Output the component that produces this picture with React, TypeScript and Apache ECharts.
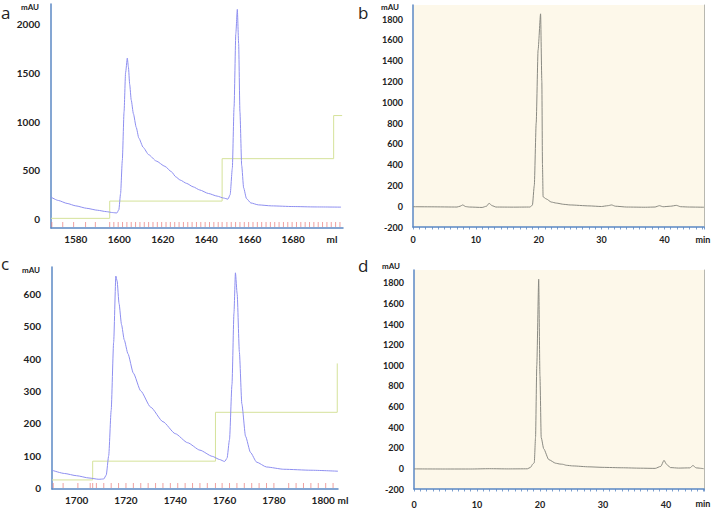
import React, { useEffect, useRef } from "react";
import * as echarts from "echarts";

// Panel a: preparative run (ml, mAU)
const aBlue: [number, number][] = [
  [1568.6, 224], [1572, 190], [1576, 160], [1580, 135], [1585, 110], [1590, 90], [1594, 76], [1597, 66], [1598.9, 62],
  [1599.8, 95], [1600.6, 260], [1601.4, 600], [1602.2, 1100], [1602.9, 1500], [1603.7, 1650], [1604.2, 1560],
  [1604.8, 1380], [1605.5, 1220], [1606.5, 1080], [1607.8, 940], [1609, 830], [1611, 735], [1613.5, 660], [1617, 595],
  [1621, 540], [1624, 485], [1626, 432], [1628, 400], [1631, 365], [1634, 330], [1637, 298], [1641, 262], [1645, 235],
  [1648, 215], [1650, 204],
  [1651, 250], [1652, 520], [1652.8, 1150], [1653.6, 1900], [1654.3, 2150], [1654.9, 1800], [1655.5, 1100],
  [1656.3, 550], [1657.2, 320], [1658.5, 210], [1660.5, 165], [1664, 145], [1670, 135], [1680, 128], [1690, 124], [1702, 122],
];
const aGreen: [number, number][] = [[1568.6, 7], [1595.6, 184], [1647.3, 619], [1698.6, 1061], [1702.5, 1061]];
const aFractions: number[] = [
  1569, 1574, 1579, 1584.5, 1589, 1595.6, 1597.5, 1599.5, 1601.5, 1603.5, 1605.5, 1607.5, 1609.5, 1611.5, 1613.5,
  1615.5, 1617.5, 1619.5, 1621.5, 1623.5, 1625.5, 1627.5, 1629.5, 1631.5, 1633.5, 1635.5, 1637.5, 1639.5, 1641.5,
  1643.5, 1645.5, 1647.3, 1649.5, 1651.5, 1653.5, 1655.5, 1657.5, 1659.5, 1661.5, 1663.5, 1665.5, 1667.5, 1669.5,
  1671.5, 1673.5, 1675.5, 1677.5, 1679.5, 1681.5, 1683.5, 1685.5, 1687.5, 1689.5, 1691.5, 1693.5, 1695.5, 1697.5, 1699.5, 1701.5,
];

// Panel b: analytical HPLC (min, mAU)
const bGray: [number, number][] = [
  [0, -5], [3, -6], [7, -8], [7.5, 0], [7.9, 12], [8.4, -4], [9, -8], [11, -12], [11.7, 0], [12.1, 28], [12.6, 5],
  [13.2, -8], [16, -9], [18.6, -8], [19.0, 10], [19.3, 200], [19.6, 800], [19.9, 1500], [20.3, 1850], [20.5, 1200],
  [20.6, 400], [20.7, 90], [21.2, 70], [22, 40], [22.8, 30], [24, 18], [25, 12], [28, 3], [30, -3], [31, 5],
  [31.6, 12], [32.2, 0], [34, -8], [37, -10], [38.5, -8], [39.2, 5], [39.8, -5], [41, 0], [41.9, 8], [42.6, -5], [44, -8], [46.3, -10],
];

// Panel c: preparative run (ml, mAU)
const cBlue: [number, number][] = [
  [1690, 55], [1695, 45], [1700, 38], [1705, 31], [1709, 27], [1711, 28], [1712, 40], [1713, 100], [1714, 240],
  [1715, 450], [1715.9, 655], [1716.4, 640], [1717.2, 570], [1718.2, 505], [1719.3, 458], [1720.8, 415], [1723, 355],
  [1726, 300], [1730, 250], [1735, 205], [1740, 168], [1745, 140], [1750, 117], [1755, 98], [1758, 88], [1760, 82],
  [1761, 92], [1762, 150], [1763, 320], [1763.8, 540], [1764.4, 665], [1765.1, 600], [1766, 420], [1767, 260],
  [1768.5, 160], [1770.5, 110], [1773, 80], [1777, 65], [1784, 58], [1795, 55], [1806, 52],
];
const cGreen: [number, number][] = [[1690, 25], [1706.5, 83], [1756.3, 234], [1805.7, 385]];
const cFractions: number[] = [
  1690.5, 1694.5, 1700.5, 1705.5, 1706.5, 1708, 1711, 1714, 1717, 1720, 1723, 1726, 1729, 1732, 1735, 1738,
  1741, 1744, 1747, 1750, 1753, 1756.3, 1759, 1762, 1765, 1768, 1771, 1774, 1777, 1780, 1786, 1789, 1792, 1795, 1798, 1801, 1804,
];

// Panel d: analytical HPLC (min, mAU)
const dGray: [number, number][] = [
  [0, -5], [5, -6], [9, -6], [12, -3], [15, -5], [18, -4], [18.5, 10], [18.9, 45], [19.1, 55], [19.3, 300],
  [19.5, 1000], [19.8, 1835], [20.0, 900], [20.2, 300], [20.6, 190], [21.4, 85], [22.5, 50], [23.2, 42],
  [23.6, 40], [24.2, 30], [25.2, 24], [27.8, 15], [30, 10], [33, 6], [36, 2], [38.3, 0], [39.2, 20], [39.7, 78],
  [40.1, 40], [40.7, 8], [42, 3], [43.8, 5], [44.3, 28], [44.8, 5], [46, -3],
];

const aYLabels = [0, 500, 1000, 1500, 2000];
const aXLabels = [1580, 1600, 1620, 1640, 1660, 1680];
const cYLabels = [0, 100, 200, 300, 400, 500, 600];
const cXLabels = [1700, 1720, 1740, 1760, 1780, 1800];
const hplcYLabels = [-200, 0, 200, 400, 600, 800, 1000, 1200, 1400, 1600, 1800];
const hplcXLabels = [0, 10, 20, 30, 40];

const AXIS_BLUE = "#5b88c4";
const TRACE_BLUE = "#8e8ff0";
const STEP_GREEN = "#d5e29a";
const FRACTION_RED = "#e87878";
const GRAY = "#8a8a82";
const CREAM = "#fdf8ea";
const FONT = "Lato";

function fractionSeries(xIndex: number, yMin: number, values: number[]) {
  return {
    type: "custom",
    xAxisIndex: xIndex,
    yAxisIndex: xIndex,
    silent: true,
    data: values.map((v) => [v, yMin]),
    renderItem: (_p: any, api: any) => {
      const pt = api.coord([api.value(0), api.value(1)]);
      return {
        type: "line",
        shape: { x1: pt[0], y1: pt[1] - 1, x2: pt[0], y2: pt[1] - 6 },
        style: { stroke: FRACTION_RED, lineWidth: 0.7 },
      };
    },
  };
}

export default function App() {
  const ref = useRef<HTMLDivElement>(null);
  useEffect(() => {
    document.body.style.margin = "0";
    const chart = echarts.init(ref.current!, null, { renderer: "svg" });
    const labelStyle = (size: number, margin: number, values: number[]) => ({
      customValues: values,
      formatter: (v: number) => String(v),
      fontFamily: FONT,
      fontWeight: "bold" as const,
      fontSize: size,
      color: "#222",
      margin,
    });
    const leftAxisLine = { show: true, onZero: false, lineStyle: { color: AXIS_BLUE, width: 1.5 } };
    const bottomAxisLine = { show: true, onZero: false, lineStyle: { color: AXIS_BLUE, width: 1.5 } };
    const panelLetter = (text: string, x: number, y: number) => ({
      type: "text", x, y,
      style: { text, font: "17px 'Open Sans'", fill: "#222", align: "left", verticalAlign: "middle" },
    });
    const smallText = (text: string, x: number, y: number, font: string) => ({
      type: "text", x, y,
      style: { text, font, fill: "#222", align: "center", verticalAlign: "middle" },
    });

    const option: any = {
      animation: false,
      backgroundColor: "#ffffff",
      grid: [
        { left: 51, top: 4, width: 292, height: 224 },
        { left: 413, top: 5, width: 291, height: 222, show: true, backgroundColor: CREAM, borderWidth: 0 },
        { left: 52, top: 267, width: 286, height: 222 },
        { left: 414, top: 270, width: 290, height: 221, show: true, backgroundColor: CREAM, borderWidth: 0 },
      ],
      xAxis: [
        {
          gridIndex: 0, type: "value", min: 1568.6, max: 1702.9,
          axisLine: bottomAxisLine, axisTick: { show: false }, splitLine: { show: false },
          axisLabel: labelStyle(10, 6, aXLabels),
        },
        {
          gridIndex: 1, type: "value", min: 0, max: 46.3, interval: 1,
          axisLine: bottomAxisLine, axisTick: { show: true, length: 2.5, lineStyle: { color: AXIS_BLUE, width: 0.8 } },
          splitLine: { show: false },
          axisLabel: labelStyle(9, 8, hplcXLabels),
        },
        {
          gridIndex: 2, type: "value", min: 1690, max: 1806,
          axisLine: bottomAxisLine, axisTick: { show: false }, splitLine: { show: false },
          axisLabel: labelStyle(10, 6, cXLabels),
        },
        {
          gridIndex: 3, type: "value", min: 0, max: 46.05, interval: 1,
          axisLine: bottomAxisLine, axisTick: { show: true, length: 2.5, lineStyle: { color: AXIS_BLUE, width: 0.8 } },
          splitLine: { show: false },
          axisLabel: labelStyle(9, 11, hplcXLabels),
        },
      ],
      yAxis: [
        {
          gridIndex: 0, type: "value", min: -92, max: 2205,
          axisLine: leftAxisLine, axisTick: { show: false }, splitLine: { show: false },
          axisLabel: labelStyle(10, 11, aYLabels),
        },
        {
          gridIndex: 1, type: "value", min: -200, max: 1935,
          axisLine: leftAxisLine, axisTick: { show: false }, splitLine: { show: false },
          axisLabel: labelStyle(9, 10, hplcYLabels),
        },
        {
          gridIndex: 2, type: "value", min: -3, max: 683,
          axisLine: leftAxisLine, axisTick: { show: false }, splitLine: { show: false },
          axisLabel: labelStyle(10, 11, cYLabels),
        },
        {
          gridIndex: 3, type: "value", min: -200, max: 1925,
          axisLine: leftAxisLine, axisTick: { show: false }, splitLine: { show: false },
          axisLabel: labelStyle(9, 10, hplcYLabels),
        },
        {
          gridIndex: 1, type: "value", position: "right", min: -200, max: 1935,
          axisLine: { show: true, onZero: false, lineStyle: { color: "#b8b8b0", width: 1 } },
          axisTick: { show: false }, axisLabel: { show: false }, splitLine: { show: false },
        },
        {
          gridIndex: 3, type: "value", position: "right", min: -200, max: 1925,
          axisLine: { show: true, onZero: false, lineStyle: { color: "#b8b8b0", width: 1 } },
          axisTick: { show: false }, axisLabel: { show: false }, splitLine: { show: false },
        },
      ],
      series: [
        { type: "line", xAxisIndex: 0, yAxisIndex: 0, data: aGreen, step: "end", showSymbol: false,
          lineStyle: { color: STEP_GREEN, width: 1 } },
        fractionSeries(0, -92, aFractions),
        { type: "line", xAxisIndex: 0, yAxisIndex: 0, data: aBlue, showSymbol: false, smooth: 0.2, smoothMonotone: "x",
          lineStyle: { color: TRACE_BLUE, width: 1 } },
        { type: "line", xAxisIndex: 1, yAxisIndex: 1, data: bGray, showSymbol: false, smooth: 0.2, smoothMonotone: "x",
          lineStyle: { color: GRAY, width: 1 } },
        { type: "line", xAxisIndex: 2, yAxisIndex: 2, data: cGreen, step: "end", showSymbol: false,
          lineStyle: { color: STEP_GREEN, width: 1 } },
        fractionSeries(2, -3, cFractions),
        { type: "line", xAxisIndex: 2, yAxisIndex: 2, data: cBlue, showSymbol: false, smooth: 0.2, smoothMonotone: "x",
          lineStyle: { color: TRACE_BLUE, width: 1 } },
        { type: "line", xAxisIndex: 3, yAxisIndex: 3, data: dGray, showSymbol: false, smooth: 0.2, smoothMonotone: "x",
          lineStyle: { color: GRAY, width: 1 } },
      ],
      graphic: [
        panelLetter("a", 1, 12),
        panelLetter("b", 358, 12),
        panelLetter("c", 1, 263),
        panelLetter("d", 358, 265),
        smallText("mAU", 30, 7, "bold 8px Lato"),
        smallText("mAU", 390, 7, "bold 8px Lato"),
        smallText("mAU", 31, 270, "bold 8px Lato"),
        smallText("mAU", 391, 266, "bold 8px Lato"),
        smallText("ml", 332, 239, "bold 10px Lato"),
        smallText("ml", 343, 500, "bold 10px Lato"),
        smallText("min", 703, 239, "bold 9px Lato"),
        smallText("min", 703, 503, "bold 9px Lato"),
      ],
    };
    chart.setOption(option);
    return () => chart.dispose();
  }, []);
  return <div ref={ref} style={{ position: "fixed", left: 0, top: 0, width: 713, height: 509 }} />;
}
